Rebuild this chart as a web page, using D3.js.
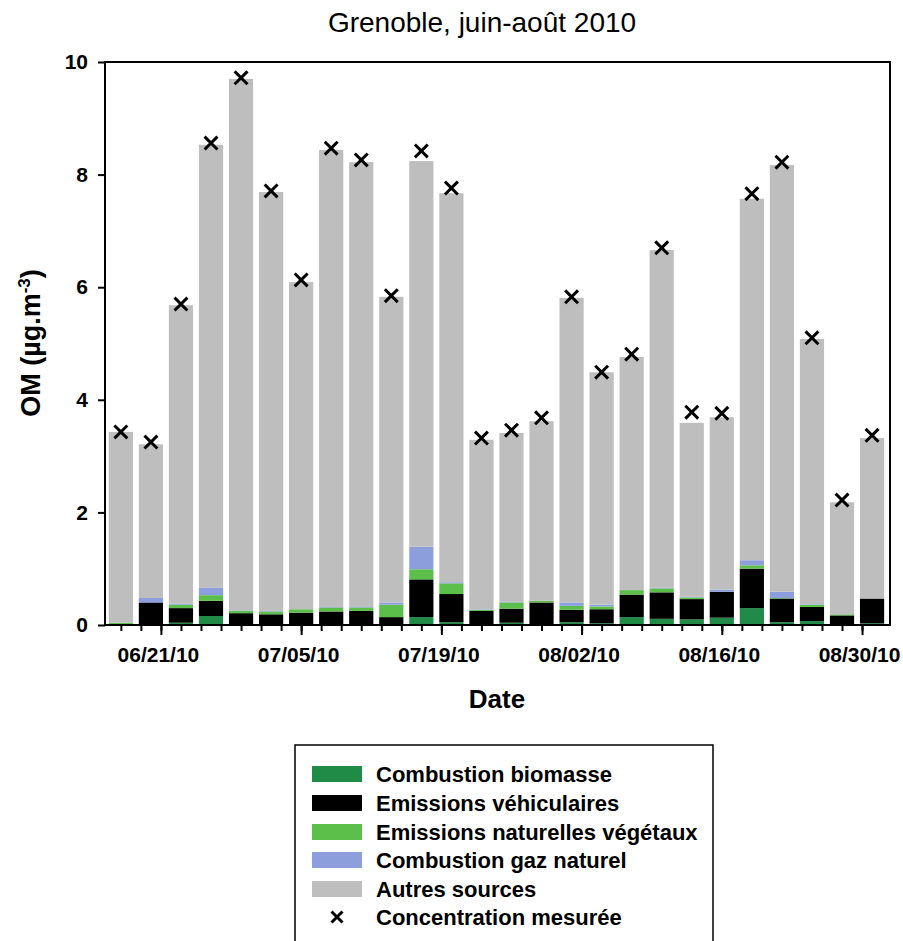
<!DOCTYPE html>
<html>
<head>
<meta charset="utf-8">
<script src="https://cdn.jsdelivr.net/npm/d3@7"></script>
<style>
  html, body { margin: 0; padding: 0; background: #fff; }
  svg { display: block; font-family: "Liberation Sans", Arial, sans-serif; }
</style>
</head>
<body>
<svg id="chart" width="903" height="941"></svg>
<script>
// ---- data ----
const dates = ["2010-06-17","2010-06-20","2010-06-23","2010-06-26","2010-06-29","2010-07-02",
  "2010-07-05","2010-07-08","2010-07-11","2010-07-14","2010-07-17","2010-07-20","2010-07-23",
  "2010-07-26","2010-07-29","2010-08-01","2010-08-04","2010-08-07","2010-08-10","2010-08-13",
  "2010-08-16","2010-08-19","2010-08-22","2010-08-25","2010-08-28","2010-08-31"];
const biomasse  = [0.00,0.00,0.04,0.16,0.01,0.01,0.00,0.01,0.00,0.00,0.14,0.05,0.00,0.04,0.00,0.05,0.03,0.14,0.11,0.10,0.13,0.30,0.05,0.07,0.00,0.03];
const vehicules = [0.00,0.40,0.26,0.27,0.20,0.18,0.22,0.23,0.25,0.14,0.67,0.50,0.25,0.25,0.40,0.22,0.25,0.40,0.47,0.36,0.46,0.70,0.42,0.25,0.17,0.44];
const vegetaux  = [0.04,0.00,0.06,0.10,0.04,0.05,0.06,0.07,0.06,0.22,0.18,0.19,0.02,0.11,0.03,0.07,0.05,0.08,0.07,0.03,0.00,0.06,0.01,0.04,0.02,0.00];
const gaz       = [0.00,0.08,0.02,0.13,0.01,0.01,0.00,0.01,0.01,0.04,0.40,0.02,0.01,0.01,0.00,0.06,0.03,0.00,0.01,0.01,0.04,0.09,0.11,0.01,0.00,0.00];
const autres    = [3.39,2.73,5.30,7.87,9.44,7.44,5.81,8.12,7.90,5.43,6.85,6.91,3.01,3.00,3.19,5.41,4.13,4.14,6.00,3.09,3.06,6.42,7.58,4.71,1.99,2.85];
const mesure    = [3.43,3.25,5.70,8.56,9.72,7.71,6.13,8.47,8.26,5.85,8.42,7.76,3.32,3.46,3.68,5.83,4.49,4.81,6.70,3.78,3.76,7.66,8.22,5.10,2.22,3.37];
const seriesKeys   = ["biomasse","vehicules","vegetaux","gaz","autres"];
const seriesLabels = ["Combustion biomasse","Emissions véhiculaires","Emissions naturelles végétaux","Combustion gaz naturel","Autres sources"];
const measureLabel = "Concentration mesurée";
const majorTickDates = ["2010-06-21","2010-07-05","2010-07-19","2010-08-02","2010-08-16","2010-08-30"];
const yTicks = [0,2,4,6,8,10];
const title = "Grenoble, juin-août 2010";
const xTitle = "Date";

// ---- styling / layout ----
const FONT = "Liberation Sans, Arial, sans-serif";
const colors = ["#1f8b47","#000000","#5cbf4a","#8c9fdc","#bebebe"];
const M = {left:105, right:890, top:62, bottom:625};
const parse = s => { const [y,m,d] = s.split("-").map(Number); return new Date(Date.UTC(y,m-1,d)); };

const rows = dates.map((d,i) => ({
  date: parse(d), biomasse: biomasse[i], vehicules: vehicules[i], vegetaux: vegetaux[i],
  gaz: gaz[i], autres: autres[i], mesure: mesure[i]
}));

const svg = d3.select("#chart");

const x = d3.scaleUtc()
  .domain([new Date(Date.UTC(2010,5,15,10)), new Date(Date.UTC(2010,8,1,19))])
  .range([M.left, M.right]);
const y = d3.scaleLinear().domain([0,10]).range([M.bottom, M.top]);
const color = d3.scaleOrdinal().domain(seriesKeys).range(colors);

const barW = x(new Date(Date.UTC(2010,5,17,0))) - x(new Date(Date.UTC(2010,5,14,14)));

const stack = d3.stack().keys(seriesKeys)(rows);

svg.append("g").selectAll("g").data(stack).join("g")
  .attr("fill", d => color(d.key))
  .selectAll("rect").data(d => d).join("rect")
  .attr("x", d => x(d.data.date) - barW/2)
  .attr("width", barW)
  .attr("y", d => y(d[1]))
  .attr("height", d => Math.max(0, y(d[0]) - y(d[1])));

// measured markers
const xSym = d3.symbol().type(d3.symbolX).size(110);
svg.append("g").selectAll("path").data(rows).join("path")
  .attr("d", xSym)
  .attr("transform", d => `translate(${x(d.date)},${y(d.mesure)})`)
  .attr("fill", "none").attr("stroke", "#000").attr("stroke-width", 3);

// frame
svg.append("rect")
  .attr("x", M.left).attr("y", M.top)
  .attr("width", M.right - M.left).attr("height", M.bottom - M.top)
  .attr("fill", "none").attr("stroke", "#000").attr("stroke-width", 2);

// y axis
const yAxis = svg.append("g").attr("transform", `translate(${M.left},0)`)
  .call(d3.axisLeft(y).tickValues(yTicks).tickSize(7).tickPadding(10).tickFormat(d3.format("d")));
yAxis.select(".domain").remove();
yAxis.selectAll("line").attr("stroke-width", 2);
yAxis.selectAll("text").attr("font-size", 21).attr("font-weight", "bold")
  .attr("font-family", FONT).attr("fill", "#000");

// x axis minor ticks (every 2 days)
const minorTicks = d3.range(0, 38).map(k => new Date(Date.UTC(2010,5,17 + 2*k))).filter(d => x(d) <= M.right);
const xMinor = svg.append("g").attr("transform", `translate(0,${M.bottom})`)
  .call(d3.axisBottom(x).tickValues(minorTicks).tickSize(6).tickFormat(""));
xMinor.select(".domain").remove();
xMinor.selectAll("line").attr("stroke-width", 2);

const xMajor = svg.append("g").attr("transform", `translate(0,${M.bottom})`)
  .call(d3.axisBottom(x).tickValues(majorTickDates.map(parse)).tickSize(10).tickPadding(12)
    .tickFormat(d3.utcFormat("%m/%d/%y")));
xMajor.select(".domain").remove();
xMajor.selectAll("line").attr("stroke-width", 2);
xMajor.selectAll("text").attr("font-size", 21).attr("font-weight", "bold")
  .attr("font-family", FONT).attr("fill", "#000").attr("dx", -3);

// titles
svg.append("text").attr("x", 482).attr("y", 32).attr("text-anchor", "middle")
  .attr("font-size", 28).attr("fill", "#000").text(title);

svg.append("text").attr("x", 497).attr("y", 708).attr("text-anchor", "middle")
  .attr("font-size", 26).attr("font-weight", "bold").attr("fill", "#000").text(xTitle);

const yl = svg.append("text")
  .attr("transform", "translate(40,343) rotate(-90)")
  .attr("text-anchor", "middle").attr("font-size", 27).attr("font-weight", "bold").attr("fill", "#000");
yl.append("tspan").text("OM (µg.m");
yl.append("tspan").attr("font-size", 17).attr("dy", -10).text("-3");
yl.append("tspan").attr("dy", 10).text(")");

// legend
const lg = svg.append("g");
lg.append("rect").attr("x", 295).attr("y", 745).attr("width", 418).attr("height", 230)
  .attr("fill", "#fff").attr("stroke", "#000").attr("stroke-width", 1.5);
const rowY = [774, 803, 832, 860, 889, 917];
seriesKeys.forEach((k, i) => {
  lg.append("rect").attr("x", 312).attr("y", rowY[i] - 8).attr("width", 50).attr("height", 16)
    .attr("fill", color(k));
  lg.append("text").attr("x", 376).attr("y", rowY[i] + 8).attr("font-size", 22)
    .attr("font-weight", "bold").attr("fill", "#000").text(seriesLabels[i]);
});
lg.append("path").attr("d", d3.symbol().type(d3.symbolX).size(80))
  .attr("transform", `translate(337,${rowY[5]})`)
  .attr("fill", "none").attr("stroke", "#000").attr("stroke-width", 3);
lg.append("text").attr("x", 376).attr("y", rowY[5] + 8).attr("font-size", 22)
  .attr("font-weight", "bold").attr("fill", "#000").text(measureLabel);
</script>
</body>
</html>
